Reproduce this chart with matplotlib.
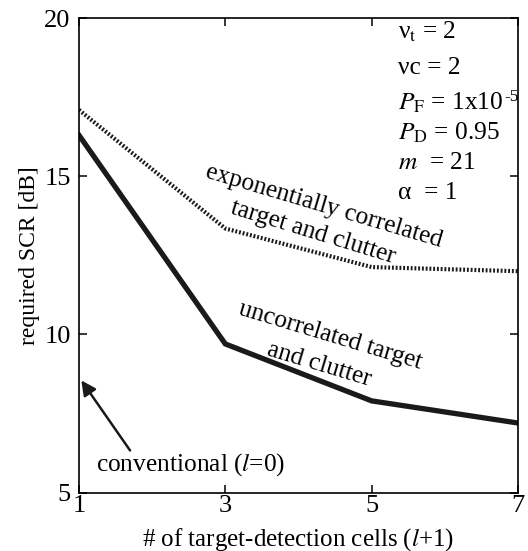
import numpy as np
import matplotlib
matplotlib.use('Agg')
import matplotlib.pyplot as plt

plt.rcParams['font.family'] = ['Liberation Serif', 'DejaVu Serif']
plt.rcParams['mathtext.fontset'] = 'stix'

cells = [1, 3, 5, 7]
scr_uncorrelated = [16.3, 9.7, 7.9, 7.2]
scr_correlated = [17.1, 13.35, 12.13, 12.0]

params = ['ν$_{\\rm t}$ = 2', 'νc = 2', '$P_{\\rm F}$ = 1x10',
          '$P_{\\rm D}$ = 0.95', '$m$  = 21', 'α  = 1']

fig = plt.figure(figsize=(5.28, 5.51), dpi=100)
ax = fig.add_axes([0.1496, 0.106, 0.8314, 0.861])

ax.plot(cells, scr_uncorrelated, color='#1a1a1a', lw=3.8, solid_joinstyle='miter')
ax.plot(cells, scr_correlated, color='#1a1a1a', lw=3.0, linestyle=(0, (0.45, 0.45)),
        dash_capstyle='butt')

ax.set_xlim(1, 7)
ax.set_ylim(5, 20)
ax.set_xticks(cells)
ax.set_yticks([5, 10, 15, 20])
ax.tick_params(direction='in', length=6, width=1.1, labelsize=19, pad=6,
               top=True, right=True)
ax.tick_params(axis='x', pad=2)
for s in ax.spines.values():
    s.set_linewidth(1.2)

ax.set_xlabel('# of target-detection cells ($l$+1)', fontsize=18, labelpad=6)
ax.set_ylabel('required SCR [dB]', fontsize=17, labelpad=3)

ys = [19.56, 18.42, 17.31, 16.37, 15.42, 14.47]
txts = []
for t, y in zip(params, ys):
    txts.append(ax.text(5.36, y, t, fontsize=18.3, va='center', ha='left'))
# superscript of 1x10^-5 (hyphen, not a minus sign)
ax.annotate('-5', xy=(1, 0.5), xycoords=txts[2], xytext=(0.5, -1),
            textcoords='offset points', fontsize=12.5, va='bottom', ha='left')

ax.text(4.35, 14.06, 'exponentially correlated', fontsize=18.3, rotation=-16.5,
        ha='center', va='center', rotation_mode='anchor')
ax.text(4.2, 13.24, 'target and clutter', fontsize=18.3, rotation=-17,
        ha='center', va='center', rotation_mode='anchor')
ax.text(4.44, 9.95, 'uncorrelated target', fontsize=18.3, rotation=-16.7,
        ha='center', va='center', rotation_mode='anchor')
ax.text(4.29, 9.04, 'and clutter', fontsize=18.3, rotation=-16.7,
        ha='center', va='center', rotation_mode='anchor')

ax.annotate('', xy=(1.01, 8.62), xytext=(1.72, 6.26),
            arrowprops=dict(arrowstyle='-|>', color='#1a1a1a', lw=1.8,
                            mutation_scale=22))
ax.text(2.53, 5.88, 'conventional ($l$=0)', fontsize=18.3, ha='center', va='center')

fig.savefig('out.png', dpi=100)
